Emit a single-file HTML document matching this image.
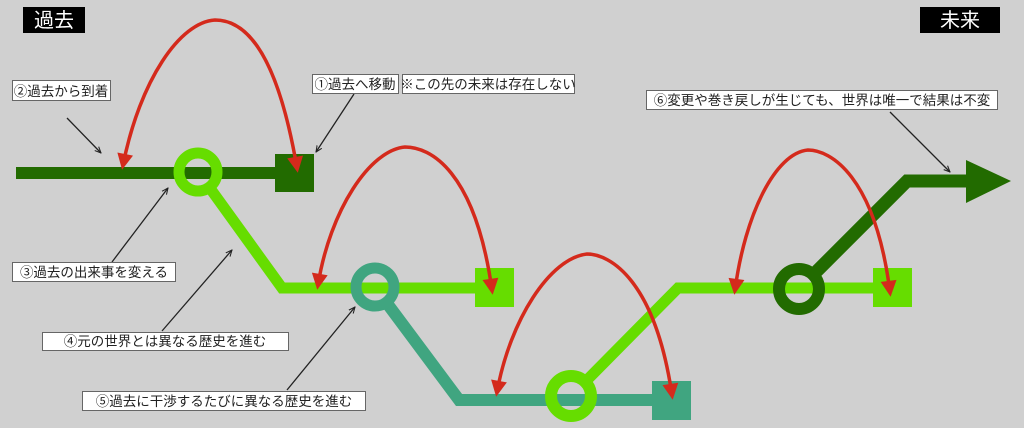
<!DOCTYPE html>
<html><head><meta charset="utf-8"><style>
html,body{margin:0;padding:0;background:#d0d0d0;}
svg{display:block}
text{font-family:"Liberation Sans","Noto Sans CJK JP",sans-serif;}
</style></head><body>
<svg width="1024" height="428" viewBox="0 0 1024 428" xmlns="http://www.w3.org/2000/svg">
<defs>
<marker id="ra" viewBox="0 0 10 10" refX="7" refY="5" markerWidth="18" markerHeight="16" orient="auto-start-reverse" markerUnits="userSpaceOnUse"><path d="M0,0 L10,5 L0,10 z" fill="#d42a1c"/></marker>
<marker id="ba" viewBox="0 0 10 10" refX="9" refY="5" markerWidth="7" markerHeight="7" orient="auto" markerUnits="userSpaceOnUse"><path d="M0,1 L9,5 L0,9" fill="none" stroke="#222" stroke-width="1.5"/></marker>
</defs>
<rect width="1024" height="428" fill="#d0d0d0"/>
<rect x="23" y="7" width="62" height="26" fill="#000"/>
<text x="54" y="27" fill="#fff" font-size="20" text-anchor="middle">過去</text>
<rect x="920" y="7" width="80" height="26" fill="#000"/>
<text x="960" y="27" fill="#fff" font-size="20" text-anchor="middle">未来</text>

<line x1="16" y1="173" x2="290" y2="173" stroke="#226b00" stroke-width="12"/>
<rect x="275" y="154" width="39" height="38" fill="#226b00"/>
<polyline points="212,191 282,288 490,288" fill="none" stroke="#66dd00" stroke-width="11"/>
<rect x="475" y="268" width="39" height="39" fill="#66dd00"/>
<circle cx="198" cy="172" r="19" fill="none" stroke="#66dd00" stroke-width="11"/>
<polyline points="389,306 459,400 660,400" fill="none" stroke="#40a580" stroke-width="12"/>
<rect x="652" y="381" width="39" height="39" fill="#40a580"/>
<circle cx="375" cy="287" r="19" fill="none" stroke="#40a580" stroke-width="11"/>
<polyline points="588,379 678,288 885,288" fill="none" stroke="#66dd00" stroke-width="11"/>
<rect x="873" y="268" width="39" height="39" fill="#66dd00"/>
<circle cx="571" cy="396" r="20" fill="none" stroke="#66dd00" stroke-width="12"/>
<polyline points="816,272 907,181 975,181" fill="none" stroke="#226b00" stroke-width="13"/>
<polygon points="966,160 1011,181 966,203" fill="#226b00"/>
<circle cx="799" cy="289" r="20" fill="none" stroke="#226b00" stroke-width="12"/>

<g fill="none" stroke="#d42a1c" stroke-width="3.5" marker-start="url(#ra)" marker-end="url(#ra)">
<path d="M297,168 C275,40 240,20 215,20 C180,22 140,80 123,165"/>
<path d="M492,290 C475,170 430,147 405,147 C370,150 330,210 318,285"/>
<path d="M672,395 C655,280 610,254 587,254 C550,258 510,320 497,392"/>
<path d="M890,292 C875,175 830,150 808,150 C775,153 745,215 735,290"/>
</g>

<g stroke="#222" stroke-width="1.3" marker-end="url(#ba)">
<line x1="67" y1="118" x2="101" y2="153"/>
<line x1="354" y1="94" x2="316" y2="152"/>
<line x1="112" y1="262" x2="168" y2="188"/>
<line x1="162" y1="331" x2="232" y2="250"/>
<line x1="287" y1="390" x2="355" y2="307"/>
<line x1="890" y1="112" x2="950" y2="172"/>
</g>

<g fill="#fff" stroke="#666" stroke-width="1">
<rect x="12.5" y="80.5" width="98" height="20"/>
<rect x="312.5" y="74.5" width="86" height="19"/>
<rect x="402.5" y="74.5" width="172" height="19"/>
<rect x="646.5" y="90.5" width="351" height="19"/>
<rect x="12.5" y="262.5" width="163" height="19"/>
<rect x="42.5" y="332.5" width="246" height="18"/>
<rect x="82.5" y="391.5" width="283" height="19"/>
</g>
<g font-size="13.5" fill="#222" text-anchor="middle">
<text x="61" y="96">②過去から到着</text>
<text x="355" y="89">①過去へ移動</text>
<text x="488" y="89">※この先の未来は存在しない</text>
<text x="822" y="105">⑥変更や巻き戻しが生じても、世界は唯一で結果は不変</text>
<text x="94" y="277">③過去の出来事を変える</text>
<text x="165" y="346">④元の世界とは異なる歴史を進む</text>
<text x="224" y="406">⑤過去に干渉するたびに異なる歴史を進む</text>
</g>
</svg>
</body></html>
